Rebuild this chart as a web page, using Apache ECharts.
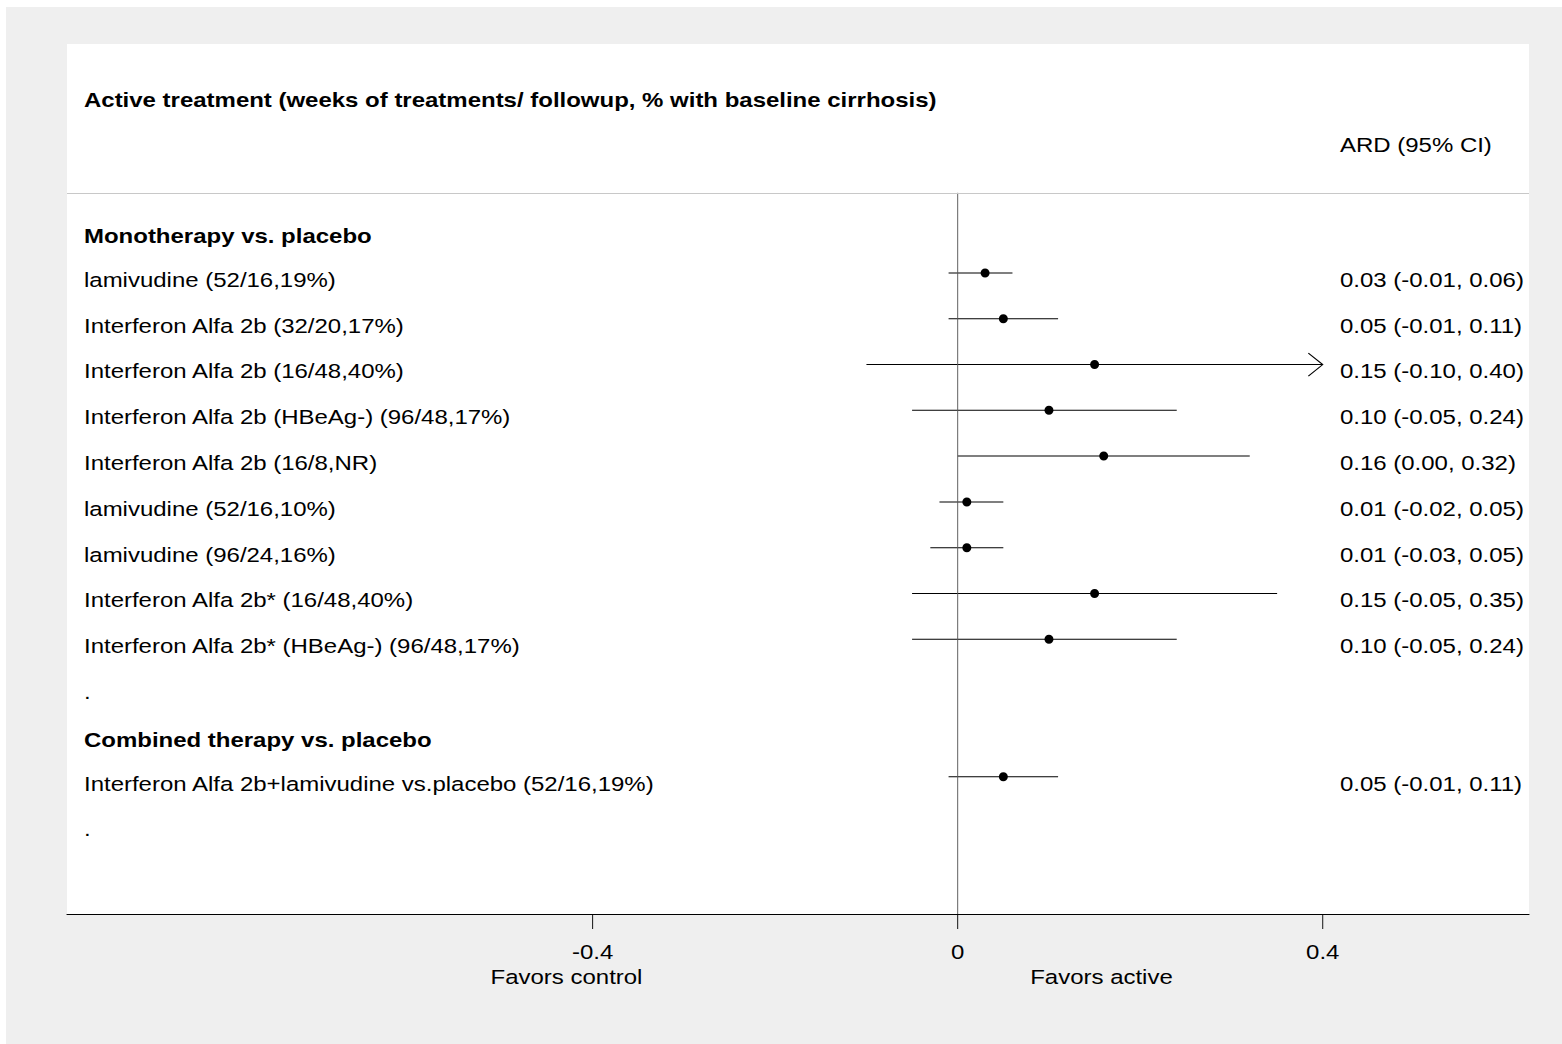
<!DOCTYPE html>
<html>
<head>
<meta charset="utf-8">
<title>Forest plot – ARD</title>
<script src="https://cdn.jsdelivr.net/npm/echarts@6/dist/echarts.min.js"></script>
<style>
  html, body { margin: 0; padding: 0; background: #fff; width: 1562px; height: 1044px; overflow: hidden; }
  #frame { position: absolute; left: 6px; top: 7px; right: 0; bottom: 0; background: #efefef; }
  #chart { position: absolute; left: 0; top: 0; height: 1044px; transform-origin: 0 0; }
</style>
</head>
<body>
<div id="frame"></div>
<div id="chart"></div>
<script>
// ---- data ----
const titleText = 'Active treatment (weeks of treatments/ followup, % with baseline cirrhosis)';
const statHeader = 'ARD (95% CI)';
const groupNames = ['Monotherapy vs. placebo', 'Combined therapy vs. placebo'];

const monoStudies = [
  'lamivudine (52/16,19%)',
  'Interferon Alfa 2b (32/20,17%)',
  'Interferon Alfa 2b (16/48,40%)',
  'Interferon Alfa 2b (HBeAg-) (96/48,17%)',
  'Interferon Alfa 2b (16/8,NR)',
  'lamivudine (52/16,10%)',
  'lamivudine (96/24,16%)',
  'Interferon Alfa 2b* (16/48,40%)',
  'Interferon Alfa 2b* (HBeAg-) (96/48,17%)'
];
const monoArd  = [0.03, 0.05, 0.15, 0.10, 0.16, 0.01, 0.01, 0.15, 0.10];
const monoLow  = [-0.01, -0.01, -0.10, -0.05, 0.00, -0.02, -0.03, -0.05, -0.05];
const monoHigh = [0.06, 0.11, 0.40, 0.24, 0.32, 0.05, 0.05, 0.35, 0.24];

const comboStudies = ['Interferon Alfa 2b+lamivudine vs.placebo (52/16,19%)'];
const comboArd  = [0.05];
const comboLow  = [-0.01];
const comboHigh = [0.11];

const xTicks = [-0.4, 0, 0.4];
const xTickLabels = ['-0.4', '0', '0.4'];
const favorLabels = ['Favors control', 'Favors active'];

// ---- layout ----
const W = 1335;                 // drawing width before the horizontal stretch
const S = 1562 / W;             // horizontal stretch applied to the whole canvas
const chartEl = document.getElementById('chart');
chartEl.style.width = W + 'px';
chartEl.style.transform = 'scaleX(' + S + ')';

const FONT = '"Liberation Sans", Arial, Helvetica, sans-serif';
const FS = 20.5;
const X_MIN = -0.976, X_MAX = 0.626;
const Y_MIN = -4, Y_MAX = 15;
const SEP_ROW = -0.75;
const TEXT_DY = 7;
const HEADER_DY = 9;

// rows: group header, studies, spacer dot
const studyRows = [];
const textRows = [];
let rowNo = 0;
function addGroup(name, studies, ard, low, high) {
  textRows.push({ row: rowNo++, text: name, bold: true });
  studies.forEach((s, i) => {
    studyRows.push({ row: rowNo++, name: s, ard: ard[i], low: low[i], high: high[i] });
  });
  textRows.push({ row: rowNo++, text: '.', bold: false });
}
addGroup(groupNames[0], monoStudies, monoArd, monoLow, monoHigh);
addGroup(groupNames[1], comboStudies, comboArd, comboLow, comboHigh);

const arrowLimit = Math.max.apply(null, xTicks);
const fmt = v => v.toFixed(2);

const chart = echarts.init(chartEl, null, { renderer: 'svg', width: W, height: 1044 });

const gridLeft = 67 / S;
const labelDx = 17 / S;
const statDx = (1340 - 67) / S;

chart.setOption({
  animation: false,
  backgroundColor: 'transparent',
  title: [
    { text: titleText, left: 84 / S, top: 90, padding: 0,
      textStyle: { fontFamily: FONT, fontSize: FS, fontWeight: 'bold', color: '#000', lineHeight: 21 } },
    { text: statHeader, left: 1340 / S, top: 135, padding: 0,
      textStyle: { fontFamily: FONT, fontSize: FS, fontWeight: 'normal', color: '#000', lineHeight: 21 } }
  ],
  grid: {
    left: gridLeft, right: (1562 - 1529) / S, top: 44, bottom: 130,
    show: true, backgroundColor: '#fff', borderWidth: 0
  },
  xAxis: {
    type: 'value', min: X_MIN, max: X_MAX,
    splitLine: { show: false },
    axisLine: { onZero: false, lineStyle: { color: '#000', width: 1 } },
    axisTick: { customValues: xTicks, length: 15, lineStyle: { color: '#000', width: 1 / S } },
    axisLabel: {
      customValues: xTicks, margin: 38, verticalAlign: 'middle',
      color: '#000', fontFamily: FONT, fontSize: FS,
      formatter: v => xTickLabels[xTicks.indexOf(v)]
    }
  },
  yAxis: { type: 'value', inverse: true, min: Y_MIN, max: Y_MAX, show: false },
  graphic: [
    { type: 'text', x: 566.5 / S, y: 977, silent: true,
      style: { text: favorLabels[0], fill: '#000', font: FS + 'px ' + FONT, textAlign: 'center', textVerticalAlign: 'middle' } },
    { type: 'text', x: 1101.5 / S, y: 977, silent: true,
      style: { text: favorLabels[1], fill: '#000', font: FS + 'px ' + FONT, textAlign: 'center', textVerticalAlign: 'middle' } }
  ],
  series: [
    {
      name: 'studies',
      type: 'custom',
      coordinateSystem: 'cartesian2d',
      silent: true,
      data: studyRows.map(d => [d.ard, d.low, d.high, d.row]),
      encode: { x: [0, 1, 2], y: 3 },
      renderItem(params, api) {
        const d = studyRows[params.dataIndex];
        const cs = params.coordSys;
        const row = api.value(3);
        const p = api.coord([api.value(0), row]);
        const pl = api.coord([api.value(1), row]);
        const ph = api.coord([api.value(2), row]);
        const y = p[1];
        const children = [
          { type: 'line', shape: { x1: pl[0], y1: y, x2: ph[0], y2: y },
            style: { stroke: '#000', lineWidth: 1 } },
          { type: 'ellipse', shape: { cx: p[0], cy: y, rx: 4.5 / S, ry: 4.5 },
            style: { fill: '#000' } },
          { type: 'text',
            style: { x: cs.x + labelDx, y: y + TEXT_DY, text: d.name, fill: '#000',
                     font: FS + 'px ' + FONT, textAlign: 'left', textVerticalAlign: 'middle' } },
          { type: 'text',
            style: { x: cs.x + statDx, y: y + TEXT_DY,
                     text: fmt(d.ard) + ' (' + fmt(d.low) + ', ' + fmt(d.high) + ')',
                     fill: '#000', font: FS + 'px ' + FONT, textAlign: 'left', textVerticalAlign: 'middle' } }
        ];
        if (d.high >= arrowLimit) {
          children.push({
            type: 'polyline',
            shape: { points: [[ph[0] - 14.4 / S, y - 11.5], [ph[0], y], [ph[0] - 14.4 / S, y + 11.5]] },
            style: { stroke: '#000', fill: null, lineWidth: 1 }
          });
        }
        return { type: 'group', children };
      },
      markLine: {
        silent: true, symbol: 'none', label: { show: false },
        data: [
          [{ coord: [0, SEP_ROW], lineStyle: { color: '#555', width: 1 / S, type: 'solid' } },
           { coord: [0, Y_MAX] }],
          { yAxis: SEP_ROW, lineStyle: { color: '#c8c8c8', width: 1, type: 'solid' } }
        ]
      }
    },
    {
      name: 'rowText',
      type: 'custom',
      coordinateSystem: 'cartesian2d',
      silent: true,
      data: textRows.map(d => [0, d.row]),
      encode: { x: 0, y: 1 },
      renderItem(params, api) {
        const d = textRows[params.dataIndex];
        const cs = params.coordSys;
        const p = api.coord([0, api.value(1)]);
        return {
          type: 'text',
          style: { x: cs.x + labelDx, y: p[1] + (d.bold ? HEADER_DY : TEXT_DY), text: d.text, fill: '#000',
                   font: (d.bold ? 'bold ' : '') + FS + 'px ' + FONT,
                   textAlign: 'left', textVerticalAlign: 'middle' }
        };
      }
    }
  ]
});
</script>
</body>
</html>
